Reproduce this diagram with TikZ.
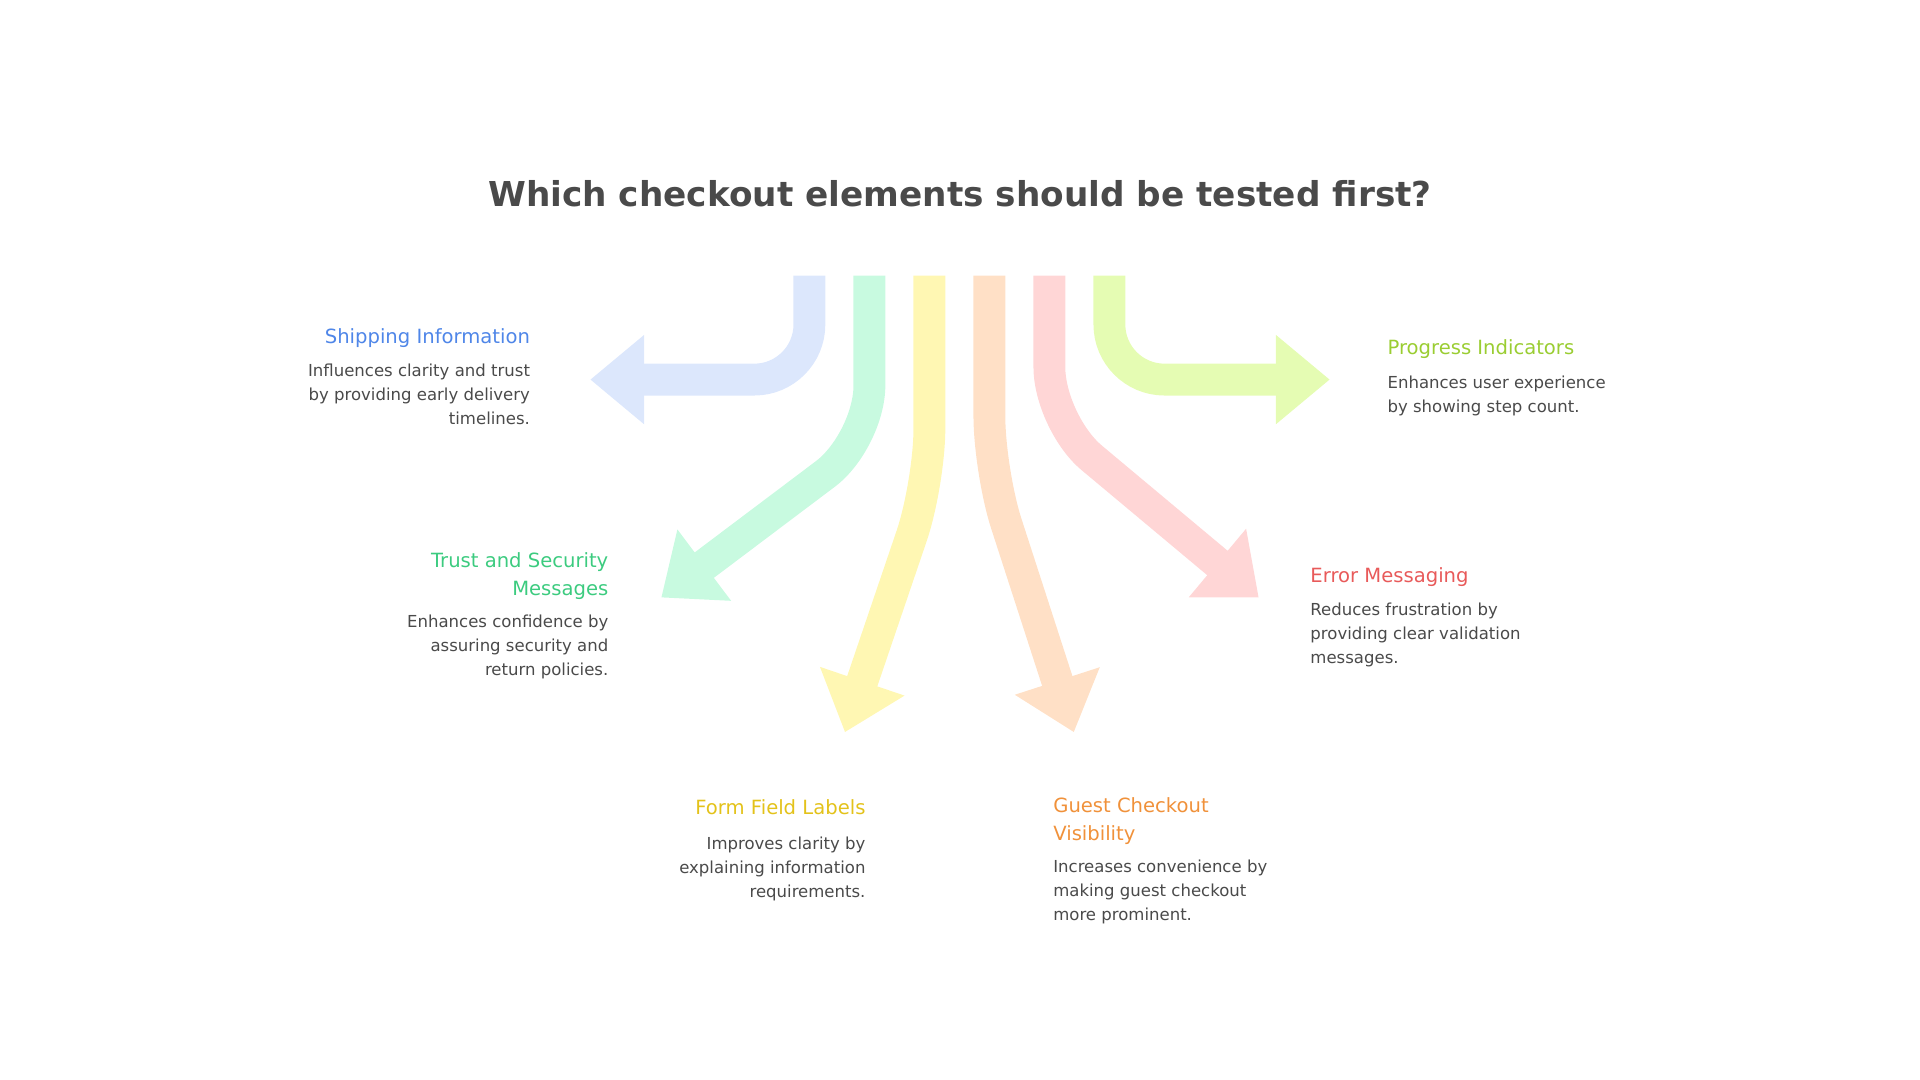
\documentclass[tikz,border=0pt]{standalone}
\usepackage{fontspec}
\setmainfont{DejaVu Sans}
\usetikzlibrary{arrows.meta}
\definecolor{cblue}{HTML}{DCE7FC}\definecolor{tblue}{HTML}{4F86E8}
\definecolor{cgreen}{HTML}{C8FAE0}\definecolor{tgreen}{HTML}{3CCB7F}
\definecolor{cyellow}{HTML}{FFF7B3}\definecolor{tyellow}{HTML}{E3C21A}
\definecolor{corange}{HTML}{FFE0C6}\definecolor{torange}{HTML}{F0913A}
\definecolor{cred}{HTML}{FFD6D6}\definecolor{tred}{HTML}{E85A5A}
\definecolor{clime}{HTML}{E5FCB3}\definecolor{tlime}{HTML}{9ACD32}
\definecolor{tgray}{HTML}{4A4A4A}
\tikzset{
 flow/.style={line width=26pt,rounded corners=45pt,-{Triangle[length=44pt,width=70pt]}},
 hd/.style={inner sep=0pt,font=\fontsize{16}{23}\selectfont},
 ds/.style={inner sep=0pt,text=tgray,font=\fontsize{13.5}{19.6}\selectfont},
}
\begin{document}
\begin{tikzpicture}[x=1pt,y=1pt]
\useasboundingbox (0,0) rectangle (1568,-882);
\node[inner sep=0pt,text=tgray,font=\fontsize{28}{34}\selectfont\bfseries] (title) at (784,-158) {Which checkout elements should be tested first?};
\coordinate (s1) at (661,-225); \coordinate (e1) at (482,-310);
\coordinate (s2) at (710,-225); \coordinate (m2) at (710,-360); \coordinate (e2) at (540,-488);
\coordinate (s3) at (759,-225); \coordinate (m3) at (759,-395); \coordinate (e3) at (690,-598);
\coordinate (s4) at (808,-225); \coordinate (m4) at (808,-385); \coordinate (e4) at (877,-598);
\coordinate (s5) at (857,-225); \coordinate (m5) at (857,-345); \coordinate (e5) at (1028,-488);
\coordinate (s6) at (906,-225); \coordinate (e6) at (1086,-310);
\draw[flow,cblue] (s1) |- (e1);
\draw[flow,cgreen] (s2) -- (m2) -- (e2);
\draw[flow,cyellow] (s3) -- (m3) -- (e3);
\draw[flow,corange] (s4) -- (m4) -- (e4);
\draw[flow,cred] (s5) -- (m5) -- (e5);
\draw[flow,clime] (s6) |- (e6);
% Shipping
\node[hd,text=tblue,anchor=north east] (h1) at (433,-268) {Shipping Information};
\node[ds,anchor=north east,align=right] (d1) at (433,-297) {Influences clarity and trust\\by providing early delivery\\timelines.};
% Trust
\node[hd,text=tgreen,anchor=north east,align=right] (h2) at (497,-451) {Trust and Security\\Messages};
\node[ds,anchor=north east,align=right] (d2) at (497,-502) {Enhances confidence by\\assuring security and\\return policies.};
% Form
\node[hd,text=tyellow,anchor=north east] (h3) at (707,-653) {Form Field Labels};
\node[ds,anchor=north east,align=right] (d3) at (707,-683) {Improves clarity by\\explaining information\\requirements.};
% Guest
\node[hd,text=torange,anchor=north west,align=left] (h4) at (860,-651) {Guest Checkout\\Visibility};
\node[ds,anchor=north west,align=left] (d4) at (860,-702) {Increases convenience by\\making guest checkout\\more prominent.};
% Error
\node[hd,text=tred,anchor=north west] (h5) at (1070,-463) {Error Messaging};
\node[ds,anchor=north west,align=left] (d5) at (1070,-492) {Reduces frustration by\\providing clear validation\\messages.};
% Progress
\node[hd,text=tlime,anchor=north west] (h6) at (1133,-277) {Progress Indicators};
\node[ds,anchor=north west,align=left] (d6) at (1133,-307) {Enhances user experience\\by showing step count.};
\end{tikzpicture}
\end{document}
